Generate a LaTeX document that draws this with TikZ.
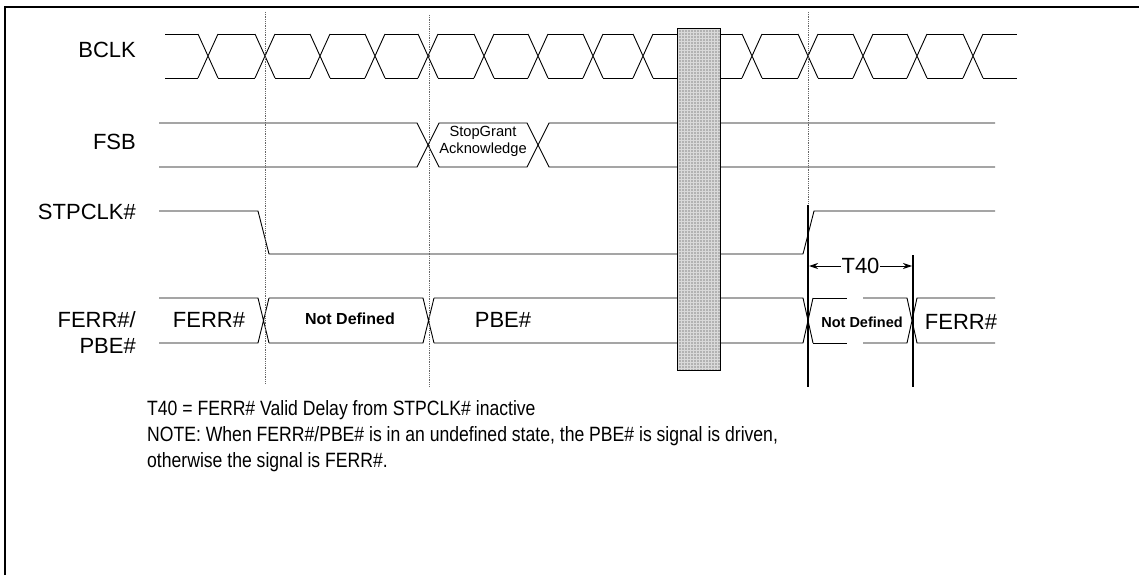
\documentclass[tikz,border=0pt]{standalone}
\usepackage{fontspec}
\setmainfont{Liberation Sans}
\newfontfamily\narrowfont[FakeStretch=0.85]{Liberation Sans}
\usepackage{tikz}
\usetikzlibrary{arrows.meta,patterns,positioning}
\tikzset{
    %Define standard arrow tip
    >={Stealth[length=9pt,width=6pt]},
    %Define style for signal lines
    sig/.style={
           draw=black, line width=0.9pt},
    %Define style for the cursors
    cursor/.style={
           draw=black!60, densely dotted, line width=0.8pt},
    marker/.style={
           draw=black, line width=1.6pt},
    %Define style for labels
    signame/.style={
           anchor=east, inner sep=0pt,
           font=\fontsize{22}{26}\selectfont},
    buslabel/.style={
           inner sep=0pt,
           font=\fontsize{22}{26}\selectfont},
    undef/.style={
           inner sep=0pt,
           font=\bfseries\fontsize{16}{18}\selectfont},
    notes/.style={
           anchor=base west, inner sep=0pt,
           font=\narrowfont\fontsize{20.7}{26}\selectfont}
}

\begin{document}
\begin{tikzpicture}[x=1pt,y=-1pt]
\useasboundingbox (0,0) rectangle (1139,575);
% frame
\draw[line width=1.4pt] (5,575) -- (5,7) -- (1139,7);

% signal names
\node[signame] (bclk) at (136,50) {BCLK};
\node[signame] (fsb) at (136,142) {FSB};
\node[signame] (stpclk) at (136,212) {STPCLK\#};
\node[signame] (ferr) at (136,320) {FERR\#/};
\node[signame] (pbe) at (136,346) {PBE\#};

% BCLK
\foreach \c [remember=\c as \p (initially 155)] in {208,265,320,375,428,484,538,593,643,752,808,863,917,973,1027}
  \draw[sig] (\p+10,34) -- (\c-10,34) (\p+10,78) -- (\c-10,78);
\foreach \c in {208,265,320,375,428,484,538,593,643,752,808,863,917,973}
  \draw[sig] (\c-10,34) -- (\c+10,78) (\c-10,78) -- (\c+10,34);

% FSB
\draw[sig] (159,123) -- (417,123) -- (439,167) -- (527,167) -- (549,123) -- (995,123);
\draw[sig] (159,167) -- (417,167) -- (439,123) -- (527,123) -- (549,167) -- (995,167);
\node[inner sep=0pt, align=center, font=\fontsize{14.7}{17}\selectfont] (sga) at (483,141) {StopGrant\\Acknowledge};

% STPCLK#
\draw[sig] (159,211) -- (258,211) -- (269,254) -- (803,254) -- (814,211) -- (995,211);

% FERR#/PBE#
\draw[sig] (159,298) -- (258,298) -- (269,343) (159,343) -- (258,343) -- (269,298);
\draw[sig] (269,298) -- (423,298) -- (434,343) (269,343) -- (423,343) -- (434,298);
\draw[sig] (434,298) -- (803,298) -- (813,343) (434,343) -- (803,343) -- (813,298);
\draw[sig] (813,298) -- (847,298) (813,343) -- (847,343);
\draw[sig] (863,298) -- (907,298) -- (917,343) -- (995,343) (863,343) -- (907,343) -- (917,298) -- (995,298);
\node[buslabel] (ferrl) at (209,320) {FERR\#};
\node[undef] (nd1) at (350,319) {Not Defined};
\node[buslabel] (pbel) at (503,320) {PBE\#};
\node[undef, font=\bfseries\fontsize{14.5}{17}\selectfont] (nd2) at (862,322) {Not Defined};
\node[buslabel] (ferrr) at (961,322) {FERR\#};

% stop grant box
\fill[black!30] (677,29) rectangle (720,370);
\fill[pattern=grid, pattern color=white!85!black] (677,29) rectangle (720,370);
\draw[line width=1pt] (677,29) rectangle (720,370);

% cursors
\draw[cursor] (265,12) -- (265,383);
\draw[cursor] (429,15) -- (429,387);
\draw[cursor] (808,12) -- (808,387);
\draw[marker] (808,205) coordinate (ta) -- (808,387);
\draw[marker] (913,255) coordinate (tb) -- (913,387);
\coordinate (t1) at (809,266);
\coordinate (t2) at (912,266);
\draw[<->, line width=0.9pt] (t1) -- node[fill=white, inner sep=1pt, font=\fontsize{22}{26}\selectfont] (t40) {T40} (t2);

% notes
\node[notes] (n1) at (147,415) {T40 = FERR\# Valid Delay from STPCLK\# inactive};
\node[notes] (n2) at (147,441) {NOTE: When FERR\#/PBE\# is in an undefined state, the PBE\# is signal is driven,};
\node[notes] (n3) at (147,467) {otherwise the signal is FERR\#.};
\end{tikzpicture}
\end{document}
